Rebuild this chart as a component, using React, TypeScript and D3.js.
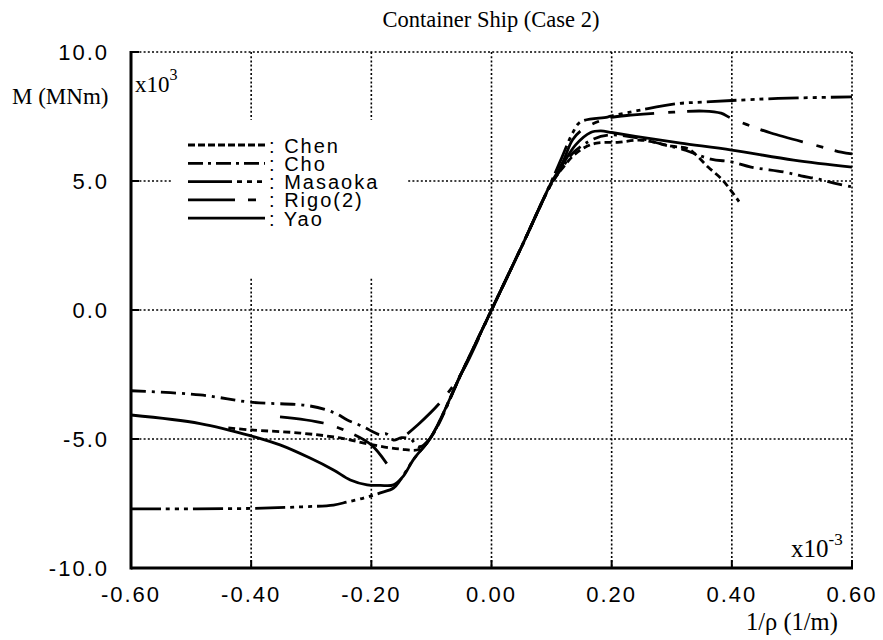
import React from 'react';
import * as d3 from 'd3';

type Pt = [number, number] | null;

// curvature (x1e-3 1/m) vs moment (x1e3 MNm); null = gap in the line
const chen: Pt[] = [
  [-0.438, -4.57], [-0.4, -4.65], [-0.318, -4.77], [-0.252, -4.96], [-0.197, -5.23],
  [-0.152, -5.39], [-0.12, -5.4], [-0.1, -4.9], [-0.05, -2.45], [0, 0], [0.05, 2.45],
  [0.1, 4.9], [0.12, 5.55], [0.137, 6.0], [0.155, 6.3], [0.175, 6.47], [0.21, 6.5],
  [0.25, 6.58], [0.3, 6.35], [0.327, 6.25], [0.343, 5.95], [0.36, 5.55], [0.382, 5.1],
  [0.398, 4.65], [0.412, 4.2],
];
const cho: Pt[] = [
  [-0.6, -3.13], [-0.485, -3.29], [-0.402, -3.57], [-0.302, -3.72], [-0.26, -4.0],
  [-0.24, -4.26], [-0.213, -4.53], [-0.195, -4.75], [-0.185, -4.84], [-0.175, -4.8],
  [-0.163, -5.04], [-0.15, -4.95], [-0.135, -5.0], [-0.12, -5.3], [-0.1, -4.9],
  [-0.05, -2.45], [0, 0], [0.05, 2.45], [0.1, 4.9], [0.12, 5.6], [0.137, 6.12],
  [0.17, 6.63], [0.195, 6.78], [0.243, 6.67], [0.287, 6.4], [0.315, 6.25], [0.365, 5.85],
  [0.4, 5.74], [0.432, 5.54], [0.487, 5.35], [0.515, 5.2], [0.543, 5.08], [0.57, 4.92],
  [0.6, 4.77],
];
const masaoka: Pt[] = [
  [-0.6, -7.71], [-0.4, -7.69], [-0.318, -7.63], [-0.263, -7.56], [-0.24, -7.44],
  [-0.213, -7.29], [-0.185, -7.09], [-0.163, -6.9], [-0.152, -6.6], [-0.13, -5.8],
  [-0.1, -4.9], [-0.05, -2.45], [0, 0], [0.05, 2.45], [0.1, 5.0], [0.115, 5.8],
  [0.135, 6.86], [0.148, 7.29], [0.193, 7.48], [0.207, 7.56], [0.248, 7.75], [0.31, 8.0],
  [0.353, 8.06], [0.4, 8.12], [0.477, 8.2], [0.6, 8.26],
];
const rigo: Pt[] = [
  [-0.352, -4.14], [-0.28, -4.38], [-0.238, -4.73], [-0.2, -5.23], [-0.173, -6.0],
  null,
  [-0.14, -4.8], [-0.123, -4.46], [-0.085, -3.57], [-0.05, -2.45], [0, 0], [0.05, 2.45],
  [0.1, 4.95], [0.12, 5.8], [0.135, 6.6], [0.155, 7.05], [0.197, 7.45], [0.237, 7.56],
  [0.303, 7.67], [0.353, 7.71], [0.382, 7.63], [0.398, 7.44], [0.427, 7.17], [0.465, 6.86],
  [0.537, 6.4], [0.582, 6.12], [0.6, 6.05],
];
const yao: Pt[] = [
  [-0.6, -4.07], [-0.485, -4.4], [-0.4, -4.88], [-0.352, -5.23], [-0.302, -5.74],
  [-0.263, -6.2], [-0.235, -6.59], [-0.207, -6.78], [-0.185, -6.8], [-0.163, -6.78],
  [-0.147, -6.45], [-0.13, -5.8], [-0.1, -4.9], [-0.05, -2.45], [0, 0], [0.05, 2.45],
  [0.1, 4.95], [0.12, 5.7], [0.14, 6.4], [0.165, 6.88], [0.182, 6.94], [0.2, 6.88],
  [0.248, 6.7], [0.315, 6.47], [0.4, 6.2], [0.503, 5.81], [0.6, 5.54],
];

const seriesNames = ['Chen', 'Cho', 'Masaoka', 'Rigo(2)', 'Yao'];
const seriesData = [chen, cho, masaoka, rigo, yao];
const dashes = ['7 4', '15 6 3 6', '30 5 4 5 4 5 4 5', '44 14 7 12', ''];
const legendDashes = ['7 3', '15 5 3 5', '44 5 5 5 5 5 5', '47 13 8 20', ''];

const xTicks = [-0.6, -0.4, -0.2, 0, 0.2, 0.4, 0.6];
const yTicks = [-10, -5, 0, 5, 10];

export default function App() {
  const x = d3.scaleLinear().domain([-0.6, 0.6]).range([131, 852]);
  const y = d3.scaleLinear().domain([-10, 10]).range([568, 52]);
  const line = d3.line<Pt>()
    .defined(d => d !== null)
    .x(d => x(d![0]))
    .y(d => y(d![1]))
    .curve(d3.curveCatmullRom.alpha(0.5));

  const grid = { stroke: '#000', strokeWidth: 1.6, strokeDasharray: '2 2.2', fill: 'none' };
  const sans = '"Liberation Sans", Arial, sans-serif';
  const serif = '"Liberation Serif", "Times New Roman", serif';

  return (
    <svg width={883} height={640} style={{ position: 'absolute', left: 0, top: 0, background: '#fff' }}>
      <rect width={883} height={640} fill="#fff" />
      <text x={491} y={27} textAnchor="middle" fontFamily={serif} fontSize={22.5}>
        Container Ship (Case 2)
      </text>

      {/* grid */}
      {xTicks.filter(t => t > -0.6).map(t => (
        <line key={'gx' + t} x1={x(t)} x2={x(t)} y1={y(10)} y2={y(-10)} {...grid} />
      ))}
      {yTicks.filter(t => t > -10).map(t => (
        <line key={'gy' + t} x1={x(-0.6)} x2={x(0.6)} y1={y(t)} y2={y(t)} {...grid} />
      ))}

      {/* legend background hides grid */}
      <rect x={172} y={120} width={236} height={157} fill="#fff" />

      {/* curves */}
      {seriesData.map((d, i) => (
        <path key={seriesNames[i]} d={line(d) || ''} fill="none" stroke="#000"
          strokeWidth={2.8} strokeDasharray={dashes[i] || undefined} strokeLinejoin="round" />
      ))}

      {/* axes */}
      <line x1={x(-0.6)} x2={x(-0.6)} y1={y(10) - 1} y2={y(-10) + 1.5} stroke="#000" strokeWidth={3} />
      <line x1={x(-0.6)} x2={x(0.6) + 1} y1={y(-10)} y2={y(-10)} stroke="#000" strokeWidth={3} />
      {yTicks.map(t => (
        <g key={'yt' + t}>
          <line x1={x(-0.6)} x2={x(-0.6) + 8} y1={y(t)} y2={y(t)} stroke="#000" strokeWidth={2} />
          <text x={109} y={y(t)} dy="0.36em" textAnchor="end" fontFamily={sans} fontSize={22}
            letterSpacing={2}>{t.toFixed(1)}</text>
        </g>
      ))}
      {xTicks.map(t => (
        <g key={'xt' + t}>
          <line x1={x(t)} x2={x(t)} y1={y(-10)} y2={y(-10) - 8} stroke="#000" strokeWidth={2} />
          <text x={x(t)} y={602} textAnchor="middle" fontFamily={sans} fontSize={22}
            letterSpacing={2}>{t.toFixed(2)}</text>
        </g>
      ))}

      {/* axis labels */}
      <text x={12} y={104} fontFamily={serif} fontSize={23}>M (MNm)</text>
      <text x={135} y={92} fontFamily={serif} fontSize={23}>x10<tspan dy={-12} fontSize={16}>3</tspan></text>
      <text x={791} y={557} fontFamily={serif} fontSize={25}>x10<tspan dy={-12} fontSize={17}>-3</tspan></text>
      <text x={746} y={630} fontFamily={serif} fontSize={24.5}>1/ρ (1/m)</text>

      {/* legend */}
      {seriesNames.map((n, i) => {
        const ly = 145 + i * 18.3;
        return (
          <g key={'lg' + n}>
            <line x1={188} x2={265} y1={ly} y2={ly} stroke="#000" strokeWidth={2.8}
              strokeDasharray={legendDashes[i] || undefined} />
            <text x={269} y={ly + 7.5} fontFamily={sans} fontSize={20} letterSpacing={2}>: {n}</text>
          </g>
        );
      })}
    </svg>
  );
}
